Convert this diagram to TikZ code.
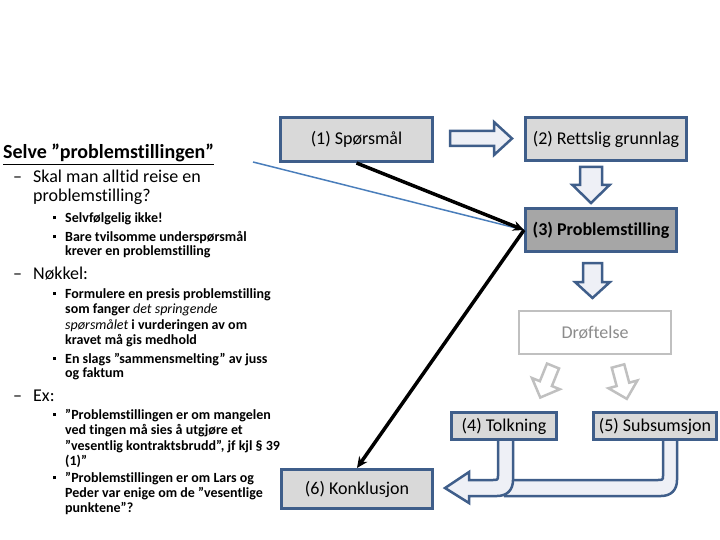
\documentclass[tikz,border=0pt]{standalone}
\usepackage{fontspec}
\setmainfont{Carlito}[Ligatures={TeX,NoCommon}]
\usetikzlibrary{arrows.meta}
\definecolor{bord}{HTML}{3F5E8A}
\definecolor{boxfill}{HTML}{D9D9D9}
\definecolor{darkfill}{HTML}{A6A6A6}
\definecolor{arrfill}{HTML}{EEF0F6}
\definecolor{lgray}{HTML}{C0C0C0}
\definecolor{tgray}{HTML}{8C8C8C}
\definecolor{lblue}{HTML}{4A7EBB}
\newcommand{\blockarr}[8]{%
  \begin{scope}[shift={(#1,#2)},rotate=#3]
    \draw[#8] (0,-#5) -- ({#4-#7},-#5) -- ({#4-#7},-#6) -- (#4,0) -- ({#4-#7},#6) -- ({#4-#7},#5) -- (0,#5) -- cycle;
  \end{scope}}
\newcommand{\bul}{\makebox[0pt][r]{\rule[0.22em]{3.2pt}{3.2pt}\hspace{9.5pt}}}
\newcommand{\dsh}{\makebox[0pt][r]{–\hspace{11pt}}}
\begin{document}
\begin{tikzpicture}[x=1pt,y=-1pt,
  box/.style={draw=bord, line width=3pt, fill=boxfill, inner sep=0pt,
    font=\fontsize{18}{22}\selectfont},
  barrow/.style={draw=bord, fill=arrfill, line width=2.5pt, line join=miter},
  garrow/.style={draw=lgray, fill=white, line width=2.5pt, line join=miter},
  lvl0/.style={anchor=base west, inner sep=0pt, font=\fontsize{20}{24}\selectfont\bfseries},
  lvl1/.style={anchor=base west, inner sep=0pt, font=\fontsize{18}{22}\selectfont},
  lvl2/.style={anchor=base west, inner sep=0pt, font=\fontsize{14}{16}\selectfont\bfseries},
  blk/.style={line width=3.5pt, -{Stealth[length=11pt,width=10pt]}}]
\useasboundingbox (0,0) rectangle (720,540);

% boxes
\node[box, minimum width=152pt, minimum height=44pt] (q1) at (356.5,139.5) {(1) Spørsmål};
\node[box, minimum width=161pt, minimum height=43pt] (q2) at (606,139) {(2) Rettslig grunnlag};
\node[box, fill=darkfill, minimum width=151pt, minimum height=43pt, font=\fontsize{18}{22}\selectfont\bfseries] (q3) at (601,230) {(3) Problemstilling};
\node[box, draw=lgray, line width=2.5pt, fill=white, text=tgray, minimum width=152pt, minimum height=43pt] (dr) at (595,332.5) {Drøftelse};
\node[box, minimum width=105pt, minimum height=27pt] (q4) at (504,426) {(4) Tolkning};
\node[box, minimum width=123pt, minimum height=27pt] (q5) at (655,426) {(5) Subsumsjon};
\node[box, minimum width=151pt, minimum height=39pt] (q6) at (357,489) {(6) Konklusjon};

% block arrows
\blockarr{450}{138.5}{0}{62}{7.5}{16.5}{18}{barrow}
\blockarr{591}{167}{-90}{36}{11}{18.5}{18}{barrow}
\blockarr{592.5}{263}{-90}{35}{9.5}{17.5}{16}{barrow}
\blockarr{553}{366}{-112}{34}{6.5}{15}{15}{garrow}
\blockarr{618}{366}{-75}{34}{6.5}{15}{15}{garrow}

% U-turn arrows
\draw[barrow] (663,441) -- (663,476) .. controls (663,480) and (662,480) .. (658,480) -- (505,480) -- (505,496) -- (661,496) .. controls (671,496) and (677,490) .. (677,480) -- (677,441);
\draw[barrow] (498,441) -- (498,476) .. controls (498,480) and (497,480) .. (493,480) -- (469,480) -- (469,472) -- (445,488) -- (469,503) -- (469,496) -- (497,496) .. controls (507,496) and (513,490) .. (513,480) -- (513,441);

% connectors
\coordinate (bl) at (253,162);
\draw[lblue, line width=1.5pt] (bl) -- (q3.west);
\draw[blk] (q1.south) -- (q3.west);
\draw[blk] (q3.west) -- (q6.north);

% left text
\node[lvl0] (t0) at (3,159) {\underline{Selve ”problemstillingen”}};
\node[lvl1] (t1) at (33,182.5) {\dsh Skal man alltid reise en};
\node[lvl1] (t2) at (33,201.5) {problemstilling?};
\node[lvl2] (t3) at (65,222.5) {\bul Selvfølgelig ikke!};
\node[lvl2] (t4) at (65,241.5) {\bul Bare tvilsomme underspørsmål};
\node[lvl2] (t5) at (65,255.5) {krever en problemstilling};
\node[lvl1] (t6) at (33,279.5) {\dsh Nøkkel:};
\node[lvl2] (t7) at (65,298) {\bul Formulere en presis problemstilling};
\node[lvl2] (t8) at (65,313.5) {som fanger \textit{\mdseries det springende}};
\node[lvl2] (t9) at (65,329) {\textit{\mdseries spørsmålet} i vurderingen av om};
\node[lvl2] (t10) at (65,344) {kravet må gis medhold};
\node[lvl2] (t11) at (65,363) {\bul En slags ”sammensmelting” av juss};
\node[lvl2] (t12) at (65,377.5) {og faktum};
\node[lvl1] (t13) at (33,401.5) {\dsh Ex:};
\node[lvl2] (t14) at (65,419) {\bul ”Problemstillingen er om mangelen};
\node[lvl2] (t15) at (65,434.5) {ved tingen må sies å utgjøre et};
\node[lvl2] (t16) at (65,450) {”vesentlig kontraktsbrudd”, jf kjl § 39};
\node[lvl2] (t17) at (65,465) {(1)”};
\node[lvl2] (t18) at (65,482.5) {\bul ”Problemstillingen er om Lars og};
\node[lvl2] (t19) at (65,497.5) {Peder var enige om de ”vesentlige};
\node[lvl2] (t20) at (65,512.5) {punktene”?};
\end{tikzpicture}
\end{document}
